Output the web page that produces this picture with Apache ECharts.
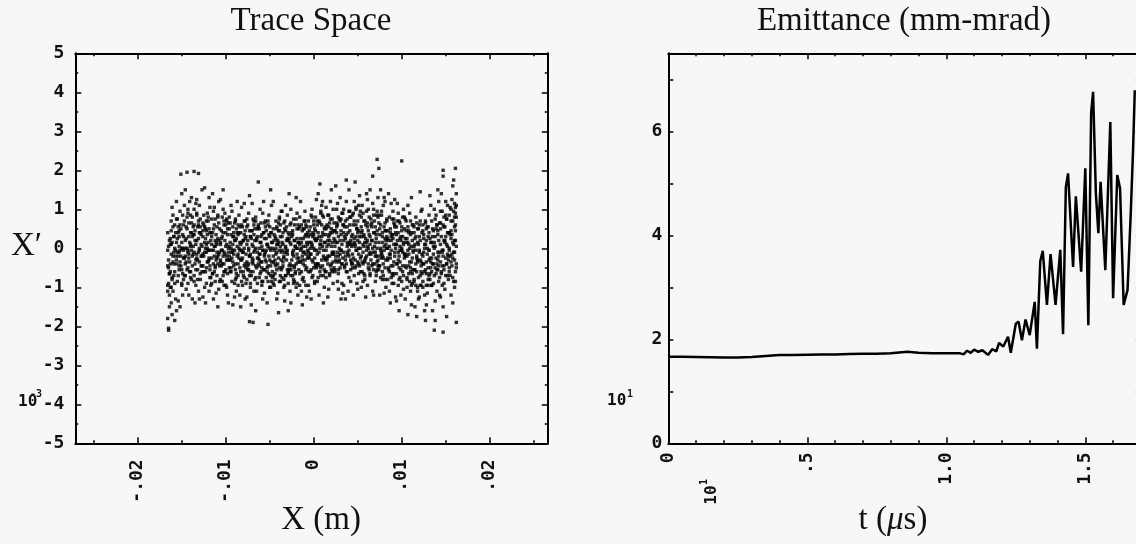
<!DOCTYPE html>
<html><head><meta charset="utf-8">
<script src="https://cdn.jsdelivr.net/npm/echarts@6/dist/echarts.min.js"></script>
<style>html,body{margin:0;padding:0;background:#f7f7f7}#c{width:1136px;height:544px}</style>
</head><body><div id="c"></div>
<script>
// ---------- texts ----------
const traceTitle = 'Trace Space';
const emitTitle = 'Emittance (mm-mrad)';
const traceXName = 'X (m)';
const traceYName = 'X\u2032';
// ---------- tick values ----------
const traceXTicks = [-0.02, -0.01, 0, 0.01, 0.02];
const traceXMinor = [-0.025, -0.015, -0.005, 0.005, 0.015, 0.025];
const emitXTicks = [0, 0.5, 1.0, 1.5];
const emitXMinor = [0.1, 0.2, 0.3, 0.4, 0.6, 0.7, 0.8, 0.9, 1.1, 1.2, 1.3, 1.4, 1.6];
const emitYTicks = [0, 1, 2, 3, 4, 5, 6, 7];
const emitYLabels = [0, 2, 4, 6];
// ---------- emittance line (t in µs, emittance) ----------
const emitT = [0, 0.05, 0.1, 0.15, 0.2, 0.25, 0.3, 0.35, 0.4, 0.45, 0.5, 0.55, 0.6, 0.65, 0.7, 0.75, 0.8, 0.86, 0.9, 0.95, 1.0,
  1.05, 1.062, 1.075, 1.088, 1.10, 1.115, 1.13, 1.15, 1.165, 1.18, 1.19, 1.205, 1.222, 1.232, 1.25, 1.26, 1.272, 1.285, 1.30,
  1.318, 1.326, 1.338, 1.347, 1.362, 1.375, 1.393, 1.41, 1.42, 1.43, 1.438, 1.456, 1.466, 1.485, 1.50, 1.511, 1.521, 1.528,
  1.538, 1.547, 1.555, 1.572, 1.59, 1.60, 1.615, 1.625, 1.638, 1.652, 1.664, 1.672, 1.678];
const emitV = [1.665, 1.665, 1.66, 1.655, 1.65, 1.65, 1.66, 1.68, 1.70, 1.70, 1.705, 1.71, 1.71, 1.715, 1.72, 1.72, 1.73, 1.76, 1.74, 1.73, 1.73,
  1.73, 1.71, 1.78, 1.74, 1.80, 1.76, 1.79, 1.70, 1.81, 1.77, 1.93, 1.86, 2.05, 1.74, 2.30, 2.34, 1.98, 2.38, 2.08,
  2.72, 1.82, 3.50, 3.70, 2.66, 3.64, 2.66, 3.72, 2.10, 4.93, 5.19, 3.39, 4.75, 3.30, 5.29, 2.27, 6.35, 6.76,
  4.81, 4.04, 5.03, 3.33, 6.18, 2.79, 5.16, 4.90, 2.66, 2.95, 4.49, 5.68, 6.79];
// ---------- trace-space particles: [X in 0.1 mm, X' in 0.01e-3] ----------
const tracePts = [
[-166,-180],[-165,-205],[-164,-150],[-166,-95],[-163,-60],[-165,-30],[-162,10],[-166,40],[-164,-120],[-161,-170],[-160,-110],[-159,-40],[-163,25],[-158,60],[-161,-75],[-157,-5],[-160,85],[-162,-140],[-158,-90],[-165,-210],[-159,30],[-157,-130],[-164,-65],[-160,-20],[-158,-185],[-162,70],[-166,-45],[-161,105],[-163,-100],
[-156,-160],[-155,-85],[-154,-20],[-153,45],[-152,95],[-151,-45],[-150,15],[-149,-120],[-148,60],[-147,-70],[-156,120],[-154,-135],[-152,-5],[-150,-95],[-148,30],[-155,75],[-153,-55],[-151,190],[-149,0],[-147,110],[-156,-30],[-154,55],[-152,-150],[-150,140],[-148,-25],[-153,-10],[-149,85],
[-146,-40],[-145,25],[-144,80],[-143,-90],[-142,-15],[-141,120],[-140,-60],[-139,40],[-138,-130],[-137,5],[-146,150],[-144,-55],[-142,65],[-140,10],[-138,-20],[-145,-105],[-143,100],[-141,-35],[-139,-80],[-137,55],[-146,0],[-144,195],[-142,-120],[-140,85],[-138,30],[-143,-5],[-139,130],
[-136,-70],[-135,20],[-134,115],[-133,-25],[-132,55],[-131,-110],[-130,0],[-129,75],[-128,-45],[-127,150],[-136,35],[-134,-95],[-133,90],[-131,-10],[-130,-130],[-129,40],[-128,10],[-127,-60],[-135,-140],[-133,125],[-131,60],[-129,-80],[-127,-20],[-136,100],[-134,-30],[-132,-55],[-130,110],[-136,197],[-131,192],
[-126,-15],[-125,60],[-124,-100],[-123,25],[-122,-50],[-121,90],[-120,-5],[-119,130],[-118,-75],[-117,40],[-126,-125],[-124,15],[-122,70],[-120,-35],[-118,105],[-125,-60],[-123,-140],[-121,0],[-119,-25],[-117,-95],[-126,45],[-124,155],[-122,-10],[-120,80],[-118,-45],[-123,50],[-119,-110],
[-116,30],[-115,-65],[-114,95],[-113,-20],[-112,5],[-111,-115],[-110,55],[-109,-40],[-108,120],[-107,-85],[-116,-5],[-114,-130],[-112,75],[-110,-25],[-108,20],[-115,140],[-113,-60],[-111,35],[-109,85],[-107,-10],[-116,-90],[-114,50],[-112,-45],[-110,10],[-108,-105],[-113,105],[-109,-150],
[-106,-30],[-105,45],[-104,-85],[-103,100],[-102,-10],[-101,20],[-100,-55],[-99,70],[-98,-120],[-97,0],[-106,125],[-104,-40],[-102,60],[-100,-95],[-98,35],[-105,-5],[-103,-70],[-101,90],[-99,-20],[-97,-140],[-106,10],[-104,80],[-102,-60],[-100,40],[-98,-30],[-103,150],[-99,-100],
[-96,-50],[-95,15],[-94,110],[-93,-85],[-92,30],[-91,-15],[-90,65],[-89,-40],[-88,-110],[-87,5],[-96,80],[-94,-60],[-92,-5],[-90,-125],[-88,50],[-95,-30],[-93,95],[-91,40],[-89,-80],[-87,120],[-96,-20],[-94,0],[-92,-145],[-90,20],[-88,-65],[-93,-10],[-89,75],
[-86,-70],[-85,0],[-84,55],[-83,-30],[-82,105],[-81,-95],[-80,20],[-79,-45],[-78,70],[-77,-15],[-86,35],[-84,-120],[-82,-5],[-80,-60],[-78,-130],[-85,85],[-83,40],[-81,-25],[-79,115],[-77,-90],[-86,-40],[-84,15],[-82,60],[-80,-10],[-78,25],[-83,-150],[-79,-75],
[-76,10],[-75,-55],[-74,90],[-73,-20],[-72,-100],[-71,45],[-70,-35],[-69,5],[-68,70],[-67,-80],[-76,-125],[-74,-40],[-72,30],[-70,115],[-68,-10],[-75,60],[-73,-70],[-71,-145],[-69,-30],[-67,20],[-76,75],[-74,-5],[-72,-60],[-70,45],[-68,-110],[-73,135],[-69,-190],[-73,-188],
[-66,-45],[-65,25],[-64,-90],[-63,60],[-62,-15],[-61,100],[-60,-60],[-59,5],[-58,-130],[-57,40],[-66,80],[-64,-25],[-62,-75],[-60,30],[-58,-5],[-65,-110],[-63,-40],[-61,15],[-59,-85],[-57,120],[-66,-160],[-64,50],[-62,0],[-60,-35],[-58,90],[-63,170],[-59,-50],
[-56,-20],[-55,55],[-54,-75],[-53,10],[-52,-45],[-51,85],[-50,-100],[-49,-5],[-48,40],[-47,-60],[-56,-115],[-54,25],[-52,70],[-50,-30],[-48,-85],[-55,-10],[-53,-140],[-51,35],[-49,-70],[-47,15],[-56,65],[-54,-35],[-52,-195],[-50,0],[-48,110],[-53,-50],[-49,150],
[-46,-35],[-45,20],[-44,-80],[-43,70],[-42,-10],[-41,-115],[-40,45],[-39,-50],[-38,5],[-37,95],[-46,-70],[-44,30],[-42,-130],[-40,-25],[-38,60],[-45,-95],[-43,-15],[-41,10],[-39,80],[-37,-55],[-46,120],[-44,-40],[-42,50],[-40,-165],[-38,-85],[-43,25],[-39,-5],
[-36,15],[-35,-45],[-34,65],[-33,-95],[-32,0],[-31,-30],[-30,85],[-29,-65],[-28,35],[-27,-110],[-36,-75],[-34,-20],[-32,110],[-30,-5],[-28,-55],[-35,40],[-33,-135],[-31,55],[-29,20],[-27,-40],[-36,95],[-34,-100],[-32,-70],[-30,25],[-28,140],[-33,-10],[-29,-160],
[-26,-55],[-25,30],[-24,-15],[-23,75],[-22,-85],[-21,5],[-20,-40],[-19,50],[-18,-120],[-17,15],[-26,100],[-24,-70],[-22,20],[-20,-100],[-18,60],[-25,-30],[-23,-5],[-21,-60],[-19,90],[-17,-25],[-26,-140],[-24,45],[-22,-45],[-20,130],[-18,0],[-23,-90],[-19,-15],
[-16,10],[-15,-35],[-14,60],[-13,-80],[-12,25],[-11,-10],[-10,95],[-9,-55],[-8,-125],[-7,40],[-16,-65],[-14,0],[-12,-40],[-10,70],[-8,15],[-15,120],[-13,-20],[-11,50],[-9,-95],[-7,-5],[-16,80],[-14,-110],[-12,5],[-10,-30],[-8,55],[-13,-145],[-9,35],
[-6,-20],[-5,45],[-4,-60],[-3,15],[-2,100],[-1,-35],[0,60],[1,-90],[2,20],[3,-5],[-6,70],[-4,-15],[-2,-75],[0,0],[2,-45],[-5,-110],[-3,85],[-1,30],[1,-25],[3,125],[-6,-95],[-4,35],[-2,5],[0,-50],[2,80],[-3,-130],[1,50],
[4,25],[5,-40],[6,70],[7,0],[8,-70],[9,110],[10,40],[11,-20],[12,-100],[13,55],[4,-85],[6,-10],[8,95],[10,-45],[12,15],[5,140],[7,-60],[9,30],[11,80],[13,-30],[4,60],[6,-120],[8,10],[10,120],[12,-55],[7,165],[11,-140],
[14,35],[15,-30],[16,85],[17,10],[18,-65],[19,120],[20,50],[21,-10],[22,-90],[23,25],[14,-75],[16,-20],[18,65],[20,-40],[22,100],[15,5],[17,-105],[19,40],[21,75],[23,-50],[14,105],[16,-125],[18,20],[20,150],[22,-15],[17,55],[21,-60],
[24,45],[25,-20],[26,100],[27,15],[28,-55],[29,75],[30,130],[31,-5],[32,-90],[33,60],[24,-60],[26,-35],[28,30],[30,-15],[32,90],[25,160],[27,-85],[29,-30],[31,45],[33,-115],[24,5],[26,65],[28,-105],[30,20],[32,-40],[27,115],[31,-130],
[34,20],[35,-45],[36,70],[37,120],[38,-10],[39,40],[40,-75],[41,95],[42,-30],[43,5],[34,-95],[36,-20],[38,55],[40,150],[42,80],[35,30],[37,-60],[39,-110],[41,10],[43,-40],[34,100],[36,-130],[38,15],[40,-5],[42,-85],[37,175],[41,60],
[44,-15],[45,60],[46,25],[47,-50],[48,105],[49,-90],[50,40],[51,0],[52,135],[53,-25],[44,85],[46,-70],[48,-5],[50,70],[52,-45],[45,-120],[47,10],[49,50],[51,-65],[53,95],[44,-40],[46,120],[48,30],[50,-105],[52,15],[47,170],[51,110],
[54,30],[55,-35],[56,90],[57,5],[58,-80],[59,60],[60,-20],[61,125],[62,45],[63,-55],[54,-100],[56,-10],[58,70],[60,15],[62,-40],[55,110],[57,-65],[59,-125],[61,20],[63,80],[54,55],[56,-85],[58,-30],[60,140],[62,100],[57,35],[61,-95],
[64,10],[65,75],[66,-45],[67,115],[68,-10],[69,40],[70,-85],[71,85],[72,0],[73,-30],[64,-70],[66,20],[68,100],[70,55],[72,-55],[65,-15],[67,-110],[69,-40],[71,25],[73,130],[64,150],[66,65],[68,-120],[70,-20],[72,95],[67,185],[71,-60],[72,228],
[74,-20],[75,50],[76,-75],[77,95],[78,15],[79,-40],[80,130],[81,65],[82,-100],[83,30],[74,85],[76,0],[78,-60],[80,-5],[82,45],[75,-120],[77,-25],[79,110],[81,-80],[83,70],[74,-45],[76,150],[78,40],[80,-115],[82,10],[77,-10],[81,120],[74,205],
[84,25],[85,-55],[86,80],[87,-15],[88,115],[89,-90],[90,35],[91,-35],[92,60],[93,-125],[84,-80],[86,5],[88,-45],[90,95],[92,-10],[85,140],[87,40],[89,-65],[91,75],[93,0],[84,-25],[86,-110],[88,20],[90,-70],[92,125],[87,-140],[91,10],
[94,-40],[95,20],[96,-95],[97,70],[98,-5],[99,-120],[100,45],[101,-60],[102,100],[103,-25],[94,55],[96,-30],[98,-75],[100,0],[102,-105],[95,115],[97,-50],[99,30],[101,-10],[103,80],[94,-135],[96,90],[98,25],[100,-85],[102,10],[100,224],[97,-160],
[104,-20],[105,45],[106,-80],[107,15],[108,-45],[109,90],[110,-110],[111,5],[112,-65],[113,60],[104,-130],[106,25],[108,-15],[110,70],[112,-90],[105,-50],[107,110],[109,-35],[111,-145],[113,-5],[104,75],[106,-100],[108,40],[110,-60],[112,20],[107,-170],[111,130],
[114,-55],[115,10],[116,-95],[117,65],[118,-30],[119,-130],[120,30],[121,-70],[122,95],[123,-15],[114,40],[116,-40],[118,-110],[120,-5],[122,-60],[115,-150],[117,-20],[119,50],[121,-95],[123,100],[114,-85],[116,80],[118,15],[120,-125],[122,-35],[117,-175],[121,145],
[124,-40],[125,25],[126,-120],[127,70],[128,-65],[129,0],[130,-95],[131,40],[132,-25],[133,110],[124,-100],[126,10],[128,-145],[130,55],[132,-80],[125,-10],[127,-55],[129,-115],[131,85],[133,-35],[124,60],[126,-160],[128,20],[130,-50],[132,135],[127,-185],[131,-5],
[134,-25],[135,50],[136,-90],[137,15],[138,-135],[139,85],[140,-55],[141,-10],[142,120],[143,-75],[134,70],[136,-40],[138,30],[140,-110],[142,-20],[135,-160],[137,100],[139,-65],[141,45],[143,-120],[134,-95],[136,5],[138,-185],[140,60],[142,-45],[137,-210],[141,150],
[144,10],[145,-60],[146,95],[147,-20],[148,55],[149,-105],[150,30],[151,-40],[152,110],[153,-80],[144,-125],[146,-5],[148,80],[150,-70],[152,40],[145,140],[147,-150],[149,20],[151,75],[153,-30],[144,65],[146,-95],[148,-45],[150,120],[152,-15],[147,185],[151,-175],[147,-215],[147,200],
[154,-50],[155,35],[156,100],[157,-15],[158,70],[159,-85],[160,115],[161,20],[162,-40],[154,85],[156,-120],[158,-25],[160,55],[162,140],[155,-70],[157,125],[159,10],[161,-60],[162,80],[154,-5],[156,45],[158,160],[160,-100],[161,105],[159,175],[162,-190],[160,-10],[161,45],[158,-140],[161,205]
];
// dense core of the beam (same units)
const traceCorePts = [
[-165,-50],[-163,10],[-161,-80],[-159,30],[-157,-20],[-166,-5],[-164,-65],[-162,45],[-160,-35],[-158,0],[-166,-110],[-164,20],[-162,-15],[-160,55],[-158,-60],[-165,-90],[-163,-40],[-161,15],[-159,-70],[-157,40],[-165,5],[-162,-100],[-159,-10],
[-156,-40],[-155,25],[-154,-70],[-153,5],[-152,60],[-151,-20],[-150,-55],[-149,35],[-148,-5],[-147,70],[-156,15],[-154,40],[-152,-35],[-150,0],[-148,-80],[-155,-10],[-153,-45],[-151,50],[-149,-65],[-147,-25],[-156,75],[-153,30],[-150,-90],
[-146,20],[-145,-35],[-144,50],[-143,-10],[-142,30],[-141,-60],[-140,5],[-139,65],[-138,-45],[-137,-15],[-146,-70],[-144,0],[-142,-25],[-140,40],[-138,80],[-145,55],[-143,-50],[-141,15],[-139,-5],[-137,35],[-146,-20],[-143,90],[-140,-75],
[-136,-10],[-135,45],[-134,-55],[-133,20],[-132,-30],[-131,70],[-130,-5],[-129,-65],[-128,35],[-127,5],[-136,60],[-134,10],[-132,-80],[-130,40],[-128,-20],[-135,-40],[-133,-15],[-131,25],[-129,55],[-127,-45],[-136,-85],[-133,85],[-130,-35],
[-126,30],[-125,-20],[-124,55],[-123,-60],[-122,10],[-121,-35],[-120,70],[-119,-5],[-118,40],[-117,-75],[-126,-45],[-124,-10],[-122,45],[-120,15],[-118,-55],[-125,85],[-123,0],[-121,35],[-119,-30],[-117,20],[-126,65],[-122,-90],[-119,50],
[-116,-25],[-115,40],[-114,-5],[-113,60],[-112,-50],[-111,15],[-110,-70],[-109,25],[-108,-15],[-107,50],[-116,75],[-114,-40],[-112,20],[-110,-10],[-108,65],[-115,-65],[-113,5],[-111,-30],[-109,80],[-107,-45],[-116,10],[-112,-85],[-109,-20],
[-106,15],[-105,-45],[-104,30],[-103,-20],[-102,70],[-101,-60],[-100,5],[-99,-30],[-98,50],[-97,-10],[-106,-80],[-104,-5],[-102,-40],[-100,60],[-98,-65],[-105,25],[-103,40],[-101,-15],[-99,10],[-97,65],[-106,-35],[-102,-95],[-99,75],
[-96,5],[-95,-60],[-94,35],[-93,-25],[-92,55],[-91,-45],[-90,-5],[-89,20],[-88,-75],[-87,40],[-96,-30],[-94,-50],[-92,10],[-90,-90],[-88,25],[-95,65],[-93,-10],[-91,30],[-89,-55],[-87,-20],[-96,50],[-92,-35],[-89,70],
[-86,-15],[-85,40],[-84,-50],[-83,10],[-82,-30],[-81,55],[-80,-70],[-79,0],[-78,-40],[-77,30],[-86,60],[-84,-5],[-82,-85],[-80,20],[-78,45],[-85,-25],[-83,-60],[-81,-10],[-79,35],[-77,-50],[-86,-95],[-82,15],[-79,70],
[-76,-35],[-75,20],[-74,-55],[-73,45],[-72,-15],[-71,-70],[-70,10],[-69,-40],[-68,35],[-67,-5],[-76,55],[-74,0],[-72,-90],[-70,-25],[-68,60],[-75,-45],[-73,-20],[-71,25],[-69,-60],[-67,50],[-76,-80],[-72,30],[-69,75],
[-66,0],[-65,-50],[-64,30],[-63,-25],[-62,50],[-61,-65],[-60,15],[-59,-35],[-58,-5],[-57,40],[-66,-75],[-64,-10],[-62,-45],[-60,65],[-58,-85],[-65,20],[-63,55],[-61,-15],[-59,35],[-57,-55],[-66,70],[-62,-30],[-59,-95],
[-56,25],[-55,-30],[-54,45],[-53,-60],[-52,5],[-51,-20],[-50,55],[-49,-45],[-48,15],[-47,-75],[-56,-55],[-54,-5],[-52,-85],[-50,30],[-48,-35],[-55,70],[-53,10],[-51,-65],[-49,40],[-47,0],[-56,-15],[-52,60],[-49,-100],
[-46,-20],[-45,35],[-44,-65],[-43,0],[-42,55],[-41,-40],[-40,15],[-39,-85],[-38,30],[-37,-10],[-46,50],[-44,-30],[-42,-55],[-40,65],[-38,-70],[-45,-5],[-43,-45],[-41,20],[-39,45],[-37,-30],[-46,-90],[-42,10],[-39,75],
[-36,-50],[-35,10],[-34,-25],[-33,50],[-32,-70],[-31,20],[-30,-15],[-29,40],[-28,-45],[-27,60],[-36,30],[-34,-80],[-32,5],[-30,-55],[-28,25],[-35,-35],[-33,70],[-31,-10],[-29,-60],[-27,15],[-36,-5],[-32,45],[-29,-90],
[-26,10],[-25,-45],[-24,35],[-23,-20],[-22,60],[-21,-65],[-20,0],[-19,25],[-18,-35],[-17,50],[-26,-70],[-24,-10],[-22,-50],[-20,75],[-18,15],[-25,40],[-23,-80],[-21,5],[-19,-25],[-17,-55],[-26,65],[-22,20],[-19,-90],
[-16,-35],[-15,25],[-14,-60],[-13,45],[-12,-10],[-11,70],[-10,-45],[-9,5],[-8,35],[-7,-25],[-16,55],[-14,15],[-12,-75],[-10,30],[-8,-50],[-15,-5],[-13,-30],[-11,-85],[-9,60],[-7,10],[-16,-95],[-12,50],[-9,-15],
[-6,30],[-5,-25],[-4,55],[-3,-55],[-2,10],[-1,-70],[0,35],[1,-5],[2,-40],[3,20],[-6,-60],[-4,0],[-2,-30],[0,70],[2,45],[-5,15],[-3,-15],[-1,40],[1,-85],[3,-50],[-6,-10],[-2,80],[1,25],
[4,-15],[5,40],[6,-45],[7,65],[8,20],[9,-30],[10,85],[11,-5],[12,50],[13,-60],[4,70],[6,30],[8,-50],[10,5],[12,-25],[5,-75],[7,10],[9,60],[11,35],[13,15],[4,-40],[8,90],[11,-70],
[14,-5],[15,60],[16,-40],[17,30],[18,-20],[19,75],[20,-55],[21,15],[22,45],[23,-10],[14,50],[16,20],[18,-70],[20,5],[22,-35],[15,-25],[17,85],[19,-45],[21,40],[23,65],[14,-60],[18,35],[21,-15],
[24,20],[25,-30],[26,55],[27,-10],[28,80],[29,0],[30,-50],[31,35],[32,10],[33,-25],[24,-55],[26,40],[28,-20],[30,70],[32,-40],[25,15],[27,60],[29,-35],[31,-5],[33,90],[24,45],[28,-65],[31,75],
[34,-10],[35,55],[36,25],[37,-40],[38,75],[39,10],[40,-20],[41,45],[42,-55],[43,30],[34,60],[36,-30],[38,5],[40,95],[42,20],[35,-50],[37,35],[39,-15],[41,80],[43,-35],[34,40],[38,-60],[41,15],
[44,35],[45,-25],[46,70],[47,5],[48,-45],[49,50],[50,20],[51,-15],[52,85],[53,0],[44,-50],[46,15],[48,60],[50,-35],[52,30],[45,90],[47,-30],[49,-5],[51,45],[53,-60],[44,10],[48,100],[51,-40],
[54,-20],[55,45],[56,10],[57,70],[58,-35],[59,25],[60,-5],[61,55],[62,-50],[63,35],[54,80],[56,-40],[58,15],[60,95],[62,0],[55,-60],[57,30],[59,-25],[61,65],[63,-15],[54,40],[58,-70],[61,5],
[64,30],[65,-30],[66,55],[67,0],[68,-55],[69,70],[70,15],[71,-20],[72,45],[73,-45],[64,-65],[66,20],[68,85],[70,-10],[72,-35],[65,60],[67,-40],[69,5],[71,35],[73,80],[64,-10],[68,40],[71,-70],
[74,15],[75,-45],[76,60],[77,-15],[78,30],[79,-70],[80,5],[81,45],[82,-30],[83,75],[74,-55],[76,-5],[78,-80],[80,55],[82,20],[75,35],[77,85],[79,-25],[81,-50],[83,0],[74,65],[78,-20],[81,25],
[84,-30],[85,20],[86,-60],[87,50],[88,-5],[89,35],[90,-45],[91,65],[92,-20],[93,10],[84,45],[86,-15],[88,-75],[90,25],[92,55],[85,-50],[87,-25],[89,75],[91,-65],[93,40],[84,0],[88,30],[91,-90],
[94,10],[95,-40],[96,40],[97,-20],[98,65],[99,-55],[100,-5],[101,30],[102,-70],[103,50],[94,-65],[96,-10],[98,-35],[100,55],[102,15],[95,70],[97,-80],[99,20],[101,-45],[103,-15],[94,35],[98,5],[101,80],
[104,-45],[105,15],[106,-20],[107,55],[108,-65],[109,0],[110,35],[111,-35],[112,60],[113,-10],[104,25],[106,-75],[108,10],[110,-50],[112,-25],[105,70],[107,-5],[109,-85],[111,40],[113,-55],[104,-15],[108,45],[111,-95],
[114,5],[115,-55],[116,30],[117,-25],[118,50],[119,-75],[120,-10],[121,20],[122,-45],[123,40],[114,-80],[116,-5],[118,-35],[120,60],[122,-95],[115,25],[117,-60],[119,10],[121,-30],[123,-65],[114,55],[118,-100],[121,70],
[124,-20],[125,35],[126,-60],[127,10],[128,-35],[129,55],[130,-80],[131,-5],[132,25],[133,-50],[124,45],[126,0],[128,-95],[130,30],[132,-65],[125,-40],[127,65],[129,-15],[131,-70],[133,15],[124,-85],[128,50],[131,-30],
[134,15],[135,-40],[136,45],[137,-70],[138,5],[139,-25],[140,60],[141,-55],[142,20],[143,-10],[134,-60],[136,-15],[138,75],[140,-40],[142,-85],[135,30],[137,0],[139,50],[141,-30],[143,65],[134,-95],[138,-50],[141,35],
[144,-35],[145,30],[146,-10],[147,60],[148,-55],[149,15],[150,-25],[151,75],[152,-70],[153,40],[144,50],[146,-45],[148,20],[150,85],[152,5],[145,-65],[147,-5],[149,55],[151,-40],[153,-20],[144,95],[148,-90],[151,10],
[154,40],[155,-20],[156,70],[157,-45],[158,15],[159,95],[160,-30],[161,60],[162,5],[154,-60],[156,25],[158,-75],[160,80],[162,-50],[155,105],[157,35],[159,-10],[161,-85],[162,110],[154,0],[156,-35],[160,20],[161,90]
];
const TRACE_X_UNIT = 1e-4;   // 0.1 mm in metres
const TRACE_Y_UNIT = 0.01;   // axis shows X' in units of 1e-3

const tickFont = {fontFamily: 'DejaVu Sans Mono', fontWeight: 'bold', fontSize: 18, color: '#111'};
const serif = 'Liberation Serif';
const BLACK = '#000';

function fmtTraceX(v) {
  if (Math.abs(v) < 1e-12) return '0';
  return (v < 0 ? '-' : '') + Math.abs(v).toFixed(2).replace(/^0/, '');
}
function fmtEmitX(v) {
  if (Math.abs(v) < 1e-12) return '0';
  return v < 1 ? String(v).replace(/^0/, '') : v.toFixed(1);
}

const TX = {min: -0.0271, max: 0.0266};
const EX = {min: 0, max: 1.7};

function tickAxis(grid, pos, range, values, len, withLine) {
  return {
    type: 'value', gridIndex: grid, position: pos, min: range.min, max: range.max,
    axisLine: {show: withLine, onZero: false, lineStyle: {color: BLACK, width: 2}},
    axisTick: {show: true, inside: true, length: len, customValues: values, lineStyle: {color: BLACK, width: 1.5}},
    axisLabel: {show: false}, splitLine: {show: false}
  };
}

const chart = echarts.init(document.getElementById('c'), null, {renderer: 'canvas'});
chart.setOption({
  animation: false,
  backgroundColor: '#f7f7f7',
  grid: [
    {left: 75.3, top: 53.3, width: 472.5, height: 390, containLabel: false, outerBoundsMode: 'none'},
    {left: 668.3, top: 53.3, width: 472.6, height: 390, containLabel: false, outerBoundsMode: 'none'}
  ],
  xAxis: [
    {
      type: 'value', gridIndex: 0, position: 'bottom', min: TX.min, max: TX.max,
      axisLine: {show: true, onZero: false, lineStyle: {color: BLACK, width: 2}},
      axisTick: {show: true, inside: true, length: 6, customValues: traceXTicks, lineStyle: {color: BLACK, width: 1.5}},
      axisLabel: Object.assign({show: true, rotate: 90, margin: 16, customValues: traceXTicks, formatter: fmtTraceX}, tickFont),
      splitLine: {show: false}
    },
    tickAxis(0, 'bottom', TX, traceXMinor, 3, false),
    tickAxis(0, 'top', TX, traceXTicks, 6, true),
    tickAxis(0, 'top', TX, traceXMinor, 3, false),
    {
      type: 'value', gridIndex: 1, position: 'bottom', min: EX.min, max: EX.max,
      axisLine: {show: true, onZero: false, lineStyle: {color: BLACK, width: 2}},
      axisTick: {show: true, inside: true, length: 6, customValues: emitXTicks, lineStyle: {color: BLACK, width: 1.5}},
      axisLabel: Object.assign({show: true, rotate: 90, margin: 9, customValues: emitXTicks, formatter: fmtEmitX}, tickFont),
      splitLine: {show: false}
    },
    tickAxis(1, 'bottom', EX, emitXMinor, 3, false),
    tickAxis(1, 'top', EX, emitXTicks, 6, true),
    tickAxis(1, 'top', EX, emitXMinor, 3, false)
  ],
  yAxis: [
    {
      type: 'value', gridIndex: 0, position: 'left', min: -5, max: 5, interval: 1,
      axisLine: {show: true, onZero: false, lineStyle: {color: BLACK, width: 2}},
      axisTick: {show: true, inside: true, length: 6, lineStyle: {color: BLACK, width: 1.5}},
      minorTick: {show: true, splitNumber: 2, length: 3, lineStyle: {color: BLACK, width: 1.5}},
      axisLabel: Object.assign({show: true, margin: 11}, tickFont),
      splitLine: {show: false}
    },
    {
      type: 'value', gridIndex: 0, position: 'right', min: -5, max: 5, interval: 1,
      axisLine: {show: true, onZero: false, lineStyle: {color: BLACK, width: 2}},
      axisTick: {show: true, inside: true, length: 6, lineStyle: {color: BLACK, width: 1.5}},
      minorTick: {show: true, splitNumber: 2, length: 3, lineStyle: {color: BLACK, width: 1.5}},
      axisLabel: {show: false}, splitLine: {show: false}
    },
    {
      type: 'value', gridIndex: 1, position: 'left', min: 0, max: 7.5,
      axisLine: {show: true, onZero: false, lineStyle: {color: BLACK, width: 2}},
      axisTick: {show: true, inside: true, length: 5, customValues: emitYTicks, lineStyle: {color: BLACK, width: 1.5}},
      axisLabel: Object.assign({show: true, margin: 6, customValues: emitYLabels}, tickFont),
      splitLine: {show: false}
    },
    {
      type: 'value', gridIndex: 1, position: 'right', min: 0, max: 7.5,
      axisLine: {show: true, onZero: false, lineStyle: {color: BLACK, width: 2}},
      axisTick: {show: true, inside: true, length: 5, customValues: emitYTicks, lineStyle: {color: BLACK, width: 1.5}},
      axisLabel: {show: false}, splitLine: {show: false}
    }
  ],
  series: [
    {
      type: 'scatter', xAxisIndex: 0, yAxisIndex: 0,
      symbol: 'rect', symbolSize: 3.4,
      itemStyle: {color: BLACK},
      silent: true,
      data: tracePts.concat(traceCorePts).map(p => [p[0] * TRACE_X_UNIT, p[1] * TRACE_Y_UNIT])
    },
    {
      type: 'line', xAxisIndex: 4, yAxisIndex: 2,
      showSymbol: false, symbol: 'none', smooth: false,
      lineStyle: {color: BLACK, width: 2.5},
      data: emitT.map((t, i) => [t, emitV[i]])
    }
  ],
  graphic: [
    {type: 'text', x: 311, y: 21, style: {text: traceTitle, font: '33px "' + serif + '"', fill: '#111', align: 'center', verticalAlign: 'middle'}},
    {type: 'text', x: 904, y: 21, style: {text: emitTitle, font: '33px "' + serif + '"', fill: '#111', align: 'center', verticalAlign: 'middle'}},
    {type: 'text', x: 321, y: 520, style: {text: traceXName, font: '33px "' + serif + '"', fill: '#111', align: 'center', verticalAlign: 'middle'}},
    {type: 'text', x: 893, y: 520, style: {text: '{n|t (}{m|\u03bc}{n|s)}', rich: {n: {font: '33px "' + serif + '"', fill: '#111'}, m: {font: 'italic 33px "' + serif + '"', fill: '#111'}}, align: 'center', verticalAlign: 'middle'}},
    {type: 'text', x: 11, y: 246, style: {text: traceYName, font: '33px "' + serif + '"', fill: '#111', align: 'left', verticalAlign: 'middle'}},
    {type: 'text', x: 18, y: 402, style: {text: '10', font: 'bold 16px "DejaVu Sans Mono"', fill: '#111', align: 'left', verticalAlign: 'middle'}},
    {type: 'text', x: 30, y: 394, style: {text: '-3', font: 'bold 10px "DejaVu Sans Mono"', fill: '#111', align: 'left', verticalAlign: 'middle'}},
    {type: 'text', x: 607, y: 401, style: {text: '10', font: 'bold 16px "DejaVu Sans Mono"', fill: '#111', align: 'left', verticalAlign: 'middle'}},
    {type: 'text', x: 627, y: 394, style: {text: '1', font: 'bold 10px "DejaVu Sans Mono"', fill: '#111', align: 'left', verticalAlign: 'middle'}},
    {type: 'text', x: 712, y: 495, rotation: Math.PI / 2, style: {text: '10', font: 'bold 16px "DejaVu Sans Mono"', fill: '#111', align: 'center', verticalAlign: 'middle'}},
    {type: 'text', x: 704, y: 482, rotation: Math.PI / 2, style: {text: '1', font: 'bold 10px "DejaVu Sans Mono"', fill: '#111', align: 'center', verticalAlign: 'middle'}}
  ]
});
</script>
</body></html>
